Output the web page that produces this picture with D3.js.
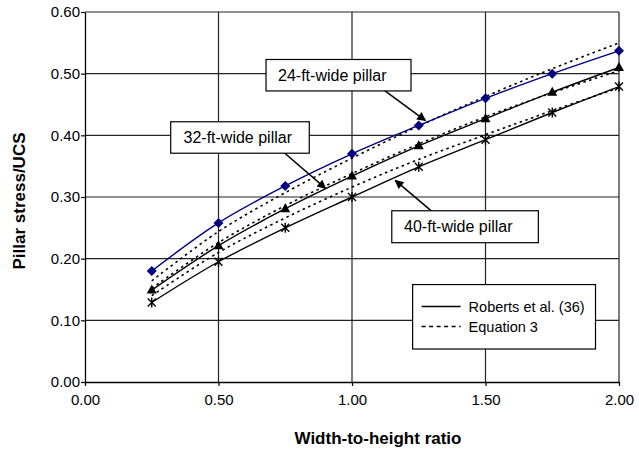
<!DOCTYPE html>
<html><head><meta charset="utf-8">
<script src="https://cdn.jsdelivr.net/npm/d3@7"></script>
<style>body{margin:0;background:#fff}svg{display:block}text{font-family:"Liberation Sans",Arial,sans-serif}</style>
</head><body><svg id="c" width="639" height="451"></svg>
<script>
// ---- data ----
const ratios = [0.25, 0.5, 0.75, 1.0, 1.25, 1.5, 1.75, 2.0];
const roberts24 = [0.180, 0.258, 0.318, 0.370, 0.416, 0.460, 0.500, 0.537];
const roberts32 = [0.149, 0.221, 0.281, 0.334, 0.383, 0.427, 0.470, 0.510];
const roberts40 = [0.129, 0.195, 0.250, 0.300, 0.349, 0.393, 0.437, 0.479];
const eq3_24 = [0.164, 0.244, 0.307, 0.363, 0.415, 0.463, 0.508, 0.550];
const eq3_32 = [0.152, 0.226, 0.286, 0.338, 0.386, 0.430, 0.469, 0.505];
const eq3_40 = [0.140, 0.210, 0.266, 0.316, 0.361, 0.401, 0.440, 0.477];
const xTicks = [0, 0.5, 1.0, 1.5, 2.0];
const yTicks = [0, 0.1, 0.2, 0.3, 0.4, 0.5, 0.6];
const labels = ["24-ft-wide pillar", "32-ft-wide pillar", "40-ft-wide pillar"];
const legendLabels = ["Roberts et al. (36)", "Equation 3"];
const xTitle = "Width-to-height ratio", yTitle = "Pillar stress/UCS";

const svg = d3.select("#c");
const L = 85, R = 619, T = 12, B = 382;
const x = d3.scaleLinear().domain([0, 2]).range([L, R]);
const y = d3.scaleLinear().domain([0, 0.6]).range([B, T]);

// grid
const grid = svg.append("g").attr("stroke", "#222").attr("stroke-width", 1.2);
grid.selectAll(".gy").data(yTicks.slice(1)).join("line")
  .attr("x1", L).attr("x2", R).attr("y1", d => y(d)).attr("y2", d => y(d));
grid.selectAll(".gx").data(xTicks.slice(1)).join("line")
  .attr("y1", T).attr("y2", B).attr("x1", d => x(d)).attr("x2", d => x(d));

// axes
const fmt = d3.format(".2f");
const ya = svg.append("g").attr("transform", `translate(${L},0)`)
  .call(d3.axisLeft(y).tickValues(yTicks).tickFormat(fmt).tickSize(4).tickPadding(1).tickSizeOuter(0));
const xa = svg.append("g").attr("transform", `translate(0,${B})`)
  .call(d3.axisBottom(x).tickValues(xTicks).tickFormat(fmt).tickSize(4).tickPadding(8).tickSizeOuter(0));
[ya, xa].forEach(a => {
  a.select(".domain").attr("stroke", "#000").attr("stroke-width", 1.3);
  a.selectAll(".tick line").attr("stroke", "#000").attr("stroke-width", 1.2);
  a.selectAll("text").attr("font-size", 15).attr("fill", "#000");
});

// titles
svg.append("text").attr("x", 378).attr("y", 444).attr("text-anchor", "middle")
  .attr("font-size", 17).attr("font-weight", "bold").text(xTitle);
svg.append("text").attr("transform", `translate(25,${(T + B) / 2 + 4}) rotate(-90)`).attr("text-anchor", "middle")
  .attr("font-size", 17).attr("font-weight", "bold").text(yTitle);

// lines
const line = d3.line().x((d, i) => x(ratios[i])).y(d => y(d)).curve(d3.curveCatmullRom.alpha(0.5));
const dashed = [eq3_24, eq3_32, eq3_40];
dashed.forEach(s => svg.append("path").attr("d", line(s)).attr("fill", "none")
  .attr("stroke", "#000").attr("stroke-width", 1.6).attr("stroke-dasharray", "2.5,3.5"));
svg.append("path").attr("d", line(roberts40)).attr("fill", "none").attr("stroke", "#000").attr("stroke-width", 1.4);
svg.append("path").attr("d", line(roberts32)).attr("fill", "none").attr("stroke", "#000").attr("stroke-width", 1.4);
svg.append("path").attr("d", line(roberts24)).attr("fill", "none").attr("stroke", "#000080").attr("stroke-width", 1.4);

// markers
svg.append("g").selectAll("path").data(roberts24).join("path")
  .attr("transform", (d, i) => `translate(${x(ratios[i])},${y(d)})`)
  .attr("d", "M0,-5L5,0L0,5L-5,0Z").attr("fill", "#000080");
svg.append("g").selectAll("path").data(roberts32).join("path")
  .attr("transform", (d, i) => `translate(${x(ratios[i])},${y(d)})`)
  .attr("d", "M0,-5.5L5,3.5L-5,3.5Z").attr("fill", "#000");
svg.append("g").selectAll("path").data(roberts40).join("path")
  .attr("transform", (d, i) => `translate(${x(ratios[i])},${y(d)})`)
  .attr("d", "M-4,-4L4,4M-4,4L4,-4M0,-5L0,5").attr("stroke", "#000").attr("stroke-width", 1.4).attr("fill", "none");

// annotations
const defs = svg.append("defs");
defs.append("marker").attr("id", "ah").attr("viewBox", "0 0 10 10").attr("refX", 9).attr("refY", 5)
  .attr("markerWidth", 11).attr("markerHeight", 9).attr("markerUnits", "userSpaceOnUse").attr("orient", "auto")
  .append("path").attr("d", "M0,0L10,5L0,10Z").attr("fill", "#000");

const boxes = [
  {x0: 0.678, x1: 1.221, y0: 0.523, y1: 0.472, tx: 0.723, ax0: 1.111, ay0: 0.476, ax1: 1.275, ay1: 0.424},
  {x0: 0.321, x1: 0.840, y0: 0.422, y1: 0.371, tx: 0.369, ax0: 0.743, ay0: 0.373, ax1: 0.901, ay1: 0.314},
  {x0: 1.149, x1: 1.698, y0: 0.2777, y1: 0.2259, tx: 1.195, ax0: 1.298, ay0: 0.277, ax1: 1.162, ay1: 0.327}
];
boxes.forEach((b, i) => {
  svg.append("line").attr("x1", x(b.ax0)).attr("y1", y(b.ay0)).attr("x2", x(b.ax1)).attr("y2", y(b.ay1))
    .attr("stroke", "#000").attr("stroke-width", 1.5).attr("marker-end", "url(#ah)");
  svg.append("rect").attr("x", x(b.x0)).attr("y", y(b.y0)).attr("width", x(b.x1) - x(b.x0)).attr("height", y(b.y1) - y(b.y0))
    .attr("fill", "#fff").attr("stroke", "#000").attr("stroke-width", 1.2);
  svg.append("text").attr("x", x(b.tx)).attr("y", (y(b.y0) + y(b.y1)) / 2 + 5.5)
    .attr("font-size", 16).text(labels[i]);
});

// legend
const lg = {x0: 1.227, x1: 1.912, y0: 0.158, y1: 0.0535};
svg.append("rect").attr("x", x(lg.x0)).attr("y", y(lg.y0)).attr("width", x(lg.x1) - x(lg.x0)).attr("height", y(lg.y1) - y(lg.y0))
  .attr("fill", "#fff").attr("stroke", "#000").attr("stroke-width", 1.2);
const lx = x(lg.x0);
legendLabels.forEach((t, i) => {
  const ly = y(lg.y0) + 22 + i * 20;
  svg.append("line").attr("x1", lx + 9).attr("x2", lx + 48).attr("y1", ly).attr("y2", ly)
    .attr("stroke", "#000").attr("stroke-width", 1.4).attr("stroke-dasharray", i ? "4,3.5" : null);
  svg.append("text").attr("x", lx + 56).attr("y", ly + 5).attr("font-size", 14.5).text(t);
});
</script></body></html>
